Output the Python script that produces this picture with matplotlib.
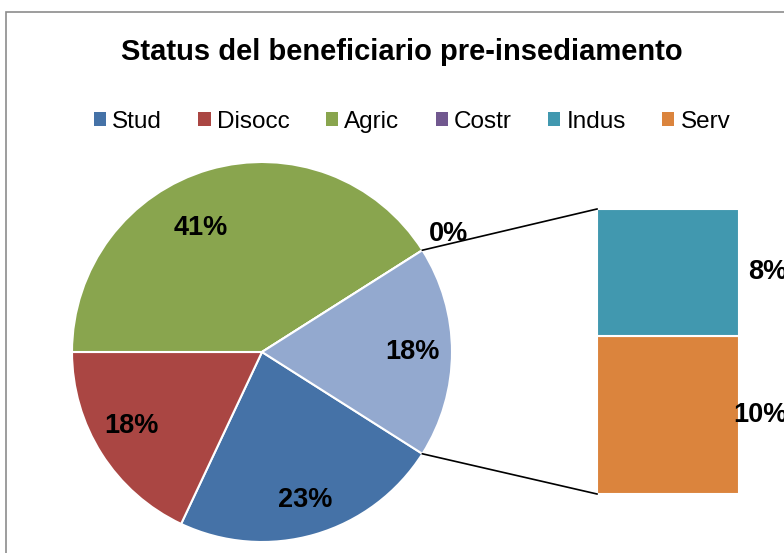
import numpy as np
import matplotlib
matplotlib.use("Agg")
import matplotlib.pyplot as plt
from matplotlib.patches import Rectangle, Patch

plt.rcParams['font.family'] = ['Liberation Sans', 'DejaVu Sans']

# dati
categorie = ['Stud', 'Disocc', 'Agric', 'Costr', 'Indus', 'Serv']
valori = [23, 18, 41, 0, 8, 10]
colori = ['#4572A7', '#AA4643', '#89A54E', '#71588F', '#4198AF', '#DB843D']
colore_altro = '#93A9CF'

pie_vals = valori[:4] + [sum(valori[4:])]
pie_cols = colori[:4] + [colore_altro]
bar_vals = valori[4:]

W, H = 784, 553
fig = plt.figure(figsize=(W / 100, H / 100), dpi=100)
ax = fig.add_axes([0, 0, 1, 1])

# cornice del grafico
ax.add_patch(Rectangle((6, -5), W, H - 12 + 5, fill=False, edgecolor='#8c8c8c', lw=1.2))

cx, cy, r = 262, H - 352, 190
start = -pie_vals[-1] / 100 * 360 / 2
wedges, _ = ax.pie(pie_vals, colors=pie_cols, startangle=start, counterclock=False,
                   radius=r, center=(cx, cy), frame=True,
                   wedgeprops=dict(edgecolor='white', linewidth=1.5))
ax.set_xlim(0, W)
ax.set_ylim(0, H)
ax.set_aspect('equal')
ax.axis('off')

# etichette percentuali nella torta
dist = [0.81, 0.79, 0.73, 1.16, 0.79]
shift = [0, -3, 10, 0, 0]
for w, v, d, s in zip(wedges, pie_vals, dist, shift):
    mid = np.deg2rad((w.theta1 + w.theta2) / 2 + s)
    ax.text(cx + r * d * np.cos(mid), cy + r * d * np.sin(mid), f'{v}%',
            ha='center', va='center', fontsize=19.5, fontweight='bold')

# barra del dettaglio
px_per = 285 / sum(bar_vals)
bx, bw, by = 597, 142, H - 494
bottom = by
heights = []
for v, c in zip(bar_vals[::-1], colori[4:][::-1]):
    ax.bar(bx + bw / 2, v * px_per, width=bw, bottom=bottom, color=c,
           edgecolor='white', linewidth=1.5)
    heights.append((bottom, v))
    bottom += v * px_per
bar_top = bottom

# etichette barra
lab_x = {8: 748, 10: 733}
for b, v in heights:
    ax.text(lab_x.get(v, bx + bw + 8), b + v * px_per / 2, f'{v}%', ha='left',
            va='center', fontsize=19.5, fontweight='bold', clip_on=False)

# linee di collegamento
a = np.deg2rad(pie_vals[-1] / 100 * 360 / 2)
ax.plot([cx + r * np.cos(a), bx], [cy + r * np.sin(a), bar_top], color='black', lw=1.2)
ax.plot([cx + r * np.cos(-a), bx], [cy + r * np.sin(-a), by], color='black', lw=1.2)

# titolo e legenda
ax.text(402, H - 52, 'Status del beneficiario pre-insediamento', ha='center',
        va='center', fontsize=21, fontweight='bold')
handles = [Patch(facecolor=c, edgecolor='none') for c in colori]
fig.legend(handles, categorie, loc='center', bbox_to_anchor=(412 / W, 1 - 122 / H),
           ncol=6, frameon=False, fontsize=17.5, handlelength=0.5, handleheight=0.5,
           handletextpad=0.25, columnspacing=1.5)

fig.savefig('out.png', dpi=100)
